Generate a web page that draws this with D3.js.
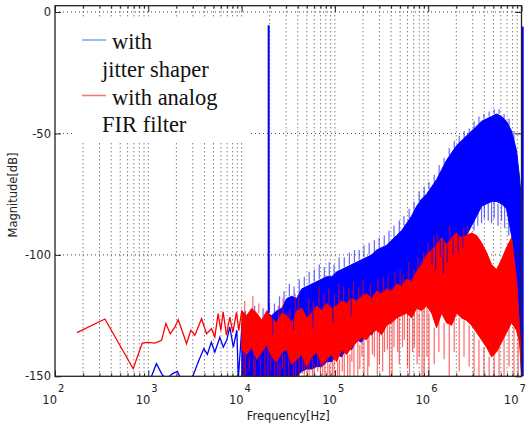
<!DOCTYPE html>
<html>
<head>
<style>
  body { margin: 0; background: white; }
  svg { display: block; }
  .lbl { font-family: "DejaVu Sans", sans-serif; font-size: 11.5px; fill: #222; }
  .legend text { font-family: "Liberation Serif", "Times New Roman", serif; font-size: 22.5px; fill: #111; }
  .axis path { display: none; }
  .axis line { stroke: #222; stroke-width: 1; }
</style>
<script src="https://cdn.jsdelivr.net/npm/d3@7/dist/d3.min.js"></script>
</head>
<body>
<svg></svg>
<script>
const width = 526, height = 427;

// axis ticks
const decades = [1e2, 1e3, 1e4, 1e5, 1e6, 1e7];
const decadeExp = ["2", "3", "4", "5", "6", "7"];
const yTicks = [0, -50, -100, -150];
const yGrid = [0, -50, -100];
const legendLabels = [["with", "jitter shaper"], ["with analog", "FIR filter"]];

// jitter shaper: low-frequency trace [Hz, dB]
const blueLine = [[1058,-151],[1221,-144.8],[1416,-149.5],[1582,-151],[1803,-149],[2049,-148],
  [2234,-151],[2930,-151],[3436,-144],[3937,-138.6],[4293,-141],[4739,-136],[5167,-140],
  [5843,-134],[6370,-138],[6947,-135],[7476,-129.7],[8150,-138],[8885,-131],[9223,-151],[10050,-130]];
// jitter shaper: dense band [Hz, upper dB, lower dB]
const blueBand = [[10050,-128,-150],[11370,-126,-150],[12860,-129,-150],[14550,-125,-150],[16460,-127,-150],
  [18610,-124,-150],[21050,-125,-150],[23820,-123,-150],[26940,-122,-150],[30480,-118,-150],
  [34480,-117,-150],[39000,-118,-150],[44110,-114,-148],[49900,-113,-147],[56450,-112,-147],
  [63850,-111,-146],[72230,-110,-146],[81710,-109,-144],[92430,-109,-144],[104500,-107,-141],
  [118300,-106,-142],[133800,-105,-138],[151300,-104,-139],[171200,-103,-135],[193600,-102,-136],
  [219000,-101,-132],[247800,-100,-133],[280300,-98,-129],[317100,-97,-127],[358700,-96,-125],
  [405700,-94,-124],[459000,-92,-122],[519200,-90,-121],[587300,-87,-121],[664400,-84,-120],
  [751500,-80,-118],[850100,-77,-112],[961700,-75,-108],[1088000,-72,-104],[1230000,-69,-100],
  [1392000,-65,-97],[1574000,-61,-96],[1781000,-58,-95],[2014000,-55,-94],[2279000,-53,-93],
  [2578000,-51,-92],[2916000,-49,-88],[3299000,-47,-84],[3731000,-45,-80],[4221000,-44,-79],
  [4775000,-43,-78],[5401000,-42,-78],[6110000,-43,-79],[6911000,-45,-81],[7818000,-49,-92],
  [8844000,-57,-110],[9520000,-68,-128],[10000000,-78,-150]];
// jitter shaper: thin spikes [Hz, from dB, to dB]
const blueStreaks = [[11000,-127,-123],[13800,-126,-121],[17000,-126,-122],[22500,-124,-120],[25500,-123,-117],
  [28500,-120,-115],[32500,-117,-112],[36500,-117,-113],[41500,-116,-110],[47000,-113,-109],[53000,-112,-107],
  [60000,-111,-106],[68000,-110,-104],[77000,-110,-105],[87000,-109,-103],[98000,-108,-104],[111000,-106,-101],
  [126000,-105,-101],[143000,-104,-99],[162000,-103,-98],[182000,-102,-98],[205000,-101,-96],[233000,-100,-95],
  [265000,-99,-94],[298000,-97,-93],[338000,-96,-92],[380000,-95,-90],[430000,-93,-88],[490000,-91,-86],
  [550000,-88,-84],[625000,-85,-81],[705000,-82,-78],[800000,-78,-74],[905000,-76,-72],[1020000,-73,-70],
  [1160000,-70,-67],[1310000,-67,-63],[1480000,-63,-60],[1680000,-59,-56],[1900000,-56,-53],[2150000,-54,-51],
  [2430000,-52,-49],[2750000,-50,-48],[3100000,-48,-45],[3500000,-46,-43],[3950000,-44,-42],[4500000,-43,-41],
  [5100000,-42,-40],[5750000,-42,-40],[6500000,-44,-42],[7350000,-47,-44],[8300000,-53,-49],
  [3100000,-84,-90],[3400000,-82,-88],[3731000,-80,-87],[4000000,-79,-85],[4400000,-78,-86],
  [4775000,-78,-87],[5100000,-78,-85],[5600000,-79,-88],[6110000,-79,-86],[6600000,-80,-89],[7300000,-84,-92]];
// jitter shaper: spikes that show over the red trace [Hz, from dB, to dB]
const blueOverStreaks = [[1100000,-98,-104],[1200000,-96,-106],[1350000,-94,-101],[1450000,-94,-108],
  [1600000,-96,-103],[1850000,-93,-100],[2100000,-91,-99],[2350000,-93,-97],
  [21500,-126,-133],[36000,-124,-131],[58000,-122,-130],[95000,-121,-128],[150000,-118,-125]];
// jitter shaper: spectral line and the last bin [Hz, from dB, to dB]
const blueLines = [[19500,-124,-5.5],[10300000,-150,-6]];

// analog FIR filter: low-frequency trace [Hz, dB]
const redLine = [[172,-132],[343,-126.4],[689,-146.9],[861,-136.3],[982,-136],[1177,-136.3],[1387,-135.2],
  [1543,-128.3],[1717,-132.5],[1927,-129.8],[2090,-126.7],[2366,-132.5],[2570,-136.6],[2858,-131.1],
  [3155,-133.1],[3722,-126.3],[4209,-132.5],[4761,-130.4],[5165,-133.8],[5603,-124.2],[5984,-131.1],
  [6339,-123.5],[6887,-133.1],[7476,-125.6],[8054,-131.9],[8817,-123.7],[9333,-131.1],[10050,-122.8]];
// analog FIR filter: dense band [Hz, upper dB, lower dB]
const redBand = [[10050,-123,-139],[11370,-125,-141],[12860,-122,-138],[14550,-124,-143],[16460,-127,-140],
  [18610,-123,-137],[21050,-126,-142],[23820,-128,-144],[26940,-124,-140],[30480,-125,-139],
  [34480,-128,-145],[39000,-123,-143],[44110,-122,-141],[49900,-126,-146],[56450,-124,-142],
  [63850,-121,-140],[72230,-123,-145],[81710,-120,-143],[92430,-122,-141],[104500,-121,-144],
  [118300,-119,-139],[133800,-120,-141],[151300,-118,-138],[171200,-119,-136],[193600,-117,-134],
  [219000,-116,-135],[247800,-118,-132],[280300,-115,-131],[317100,-116,-133],[358700,-114,-129],
  [405700,-115,-128],[459000,-112,-126],[519200,-113,-125],[587300,-110,-124],[664400,-111,-126],
  [751500,-107,-122],[850100,-104,-123],[961700,-100,-121],[1088000,-98,-124],[1230000,-96,-130],
  [1392000,-93,-124],[1574000,-96,-128],[1781000,-93,-129],[2014000,-91,-124],[2279000,-93,-126],
  [2578000,-92,-127],[2916000,-91,-129],[3299000,-92,-132],[3731000,-95,-135],[4221000,-99,-138],
  [4775000,-104,-142],[5401000,-106,-140],[6110000,-102,-136],[6911000,-97,-132],[7818000,-93,-128],
  [8844000,-110,-131],[9520000,-130,-136],[10000000,-145,-148]];
// analog FIR filter: thin spikes [Hz, from dB, to dB]
const redStreaks = [[10800,-124,-119],[13200,-122,-117],[15300,-124,-120],[19900,-123,-120],[24800,-128,-121],
  [27800,-124,-118],[33000,-128,-122],[37500,-123,-116],[41000,-122,-117],[52500,-126,-118],[58800,-124,-119],
  [67500,-121,-113],[76000,-123,-116],[86000,-120,-114],[99000,-122,-116],[110000,-121,-112],[124000,-119,-113],
  [141000,-120,-114],[158000,-118,-111],[180000,-119,-113],[200000,-117,-110],[240000,-118,-112],[290000,-115,-110],
  [330000,-116,-109],[372000,-114,-109],[440000,-112,-107],[500000,-113,-106],[540000,-113,-108],[620000,-110,-103],
  [700000,-111,-106],[780000,-107,-101],[890000,-104,-99],[1000000,-100,-95],[1150000,-97,-92],[1250000,-96,-91],
  [1700000,-93,-88],[2400000,-93,-89],[2650000,-92,-88],
  [10570,-140,-150],[11000,-141,-150],[12100,-142,-148],[13520,-138,-150],[14000,-143,-150],[15900,-143,-150],
  [17800,-139,-150],[19200,-137,-150],[20500,-142,-148],[22700,-140,-150],[24400,-144,-150],[25800,-144,-150],
  [27500,-140,-147],[29000,-141,-150],[32000,-139,-150],[36000,-145,-150],[38000,-143,-150],[41500,-142,-150],
  [44800,-141,-149],[47000,-144,-150],[50500,-146,-150],[53000,-141,-150],[57500,-142,-150],[60000,-145,-150],
  [65500,-140,-148],[70000,-144,-150],[74000,-145,-150],[78000,-142,-150],[84000,-143,-150],[88000,-145,-150],
  [94000,-141,-150],[98000,-140,-150],[107000,-144,-150],[112000,-143,-150],[120000,-139,-148],[126000,-138,-150],
  [137000,-141,-150],[145000,-141,-150],[152000,-138,-144],[160000,-135,-150],[176000,-136,-150],[185000,-137,-147],
  [195000,-134,-142],[205000,-132,-150],[225000,-135,-150],[232000,-134,-146],[252000,-132,-141],[265000,-130,-142],
  [285000,-131,-150],[300000,-132,-145],[325000,-133,-148],[340000,-128,-140],[365000,-129,-139],[385000,-129,-150],
  [410000,-128,-150],[430000,-124,-138],[470000,-126,-140],[490000,-126,-145],[530000,-125,-138],[555000,-123,-135],
  [600000,-124,-146],[630000,-126,-150],[680000,-126,-140],[710000,-122,-138],[760000,-122,-145],[800000,-124,-142],
  [860000,-123,-150],[905000,-121,-150],[970000,-121,-142],[1020000,-124,-150],[1160000,-130,-145],[1300000,-124,-140],
  [1480000,-128,-143],[1680000,-129,-150],[1900000,-124,-140],[2150000,-126,-148],[2420000,-127,-142],
  [2750000,-129,-146],[3100000,-132,-150],[3500000,-135,-150],[3950000,-138,-150],[4500000,-142,-150],
  [5100000,-140,-150],[5750000,-136,-150],[6500000,-132,-150],[7350000,-128,-146],[8300000,-130,-150],
  [9200000,-134,-150]];

const svg = d3.select("svg").attr("width", width).attr("height", height);

const x = d3.scaleLog().domain([1e2, 1e7]).range([55, 521.5]);
const y = d3.scaleLinear().domain([-150, 2.6]).range([376.3, 5.7]);
const x0 = x.range()[0], x1 = x.range()[1], yb = y(-150), yt = y(2.6);

const allTicks = x.ticks();
const minor = allTicks.filter(d => decades.indexOf(d) < 0);

// grid
const grid = svg.append("g").attr("stroke", "#444").attr("stroke-width", 1).attr("stroke-dasharray", "1,3");
grid.selectAll(".gv").data(allTicks.filter(d => d > 1e2 && d < 1e7)).enter().append("line")
    .attr("x1", d => x(d)).attr("x2", d => x(d)).attr("y1", yb).attr("y2", yt);
grid.selectAll(".gh").data(yGrid).enter().append("line")
    .attr("x1", x0).attr("x2", x1).attr("y1", d => y(d)).attr("y2", d => y(d));

// legend background hides the grid
svg.append("rect").attr("x", 73).attr("y", 18).attr("width", 176).attr("height", 124).attr("fill", "white");

svg.append("clipPath").attr("id", "plot").append("rect")
    .attr("x", x0).attr("y", yt).attr("width", x1 - x0).attr("height", yb - yt);
const plot = svg.append("g").attr("clip-path", "url(#plot)");

const area = d3.area().x(d => x(d[0])).y0(d => y(d[2])).y1(d => y(d[1]));
const line = d3.line().x(d => x(d[0])).y(d => y(d[1]));

function streaks(g, data, color, w, op) {
  g.selectAll(null).data(data).enter().append("line")
      .attr("x1", d => x(d[0])).attr("x2", d => x(d[0]))
      .attr("y1", d => y(d[1])).attr("y2", d => y(d[2]))
      .attr("stroke", color).attr("stroke-width", w).attr("stroke-opacity", op);
}
function series(g, lineData, band, color) {
  g.append("path").datum(lineData).attr("d", line)
      .attr("fill", "none").attr("stroke", color).attr("stroke-width", 1.3);
  g.append("path").datum(band).attr("d", area)
      .attr("fill", color).attr("stroke", color).attr("stroke-width", 1);
}
const gb = plot.append("g");
series(gb, blueLine, blueBand, "#0000ff");
streaks(gb, blueStreaks, "#0000ff", 1.2, 0.6);
const gr = plot.append("g");
series(gr, redLine, redBand, "#ff0000");
streaks(gr, redStreaks, "#ff0000", 1.2, 0.6);
streaks(plot.append("g"), blueOverStreaks, "#0000ff", 1.2, 0.7);

// spectral line and the edge trace
streaks(svg.append("g"), blueLines, "#0000ff", 2, 1);

// frame
svg.append("rect").attr("x", x0).attr("y", yt).attr("width", x1 - x0).attr("height", yb - yt)
    .attr("fill", "none").attr("stroke", "#222").attr("stroke-width", 1.3);

// ticks (pointing inward)
svg.append("g").attr("class", "axis").attr("transform", `translate(0,${yb})`)
    .call(d3.axisBottom(x).tickValues(decades).tickSize(-6).tickFormat(""));
svg.append("g").attr("class", "axis").attr("transform", `translate(0,${yb})`)
    .call(d3.axisBottom(x).tickValues(minor).tickSize(-3).tickFormat(""));
svg.append("g").attr("class", "axis").attr("transform", `translate(0,${yt})`)
    .call(d3.axisTop(x).tickValues(decades).tickSize(-6).tickFormat(""));
svg.append("g").attr("class", "axis").attr("transform", `translate(0,${yt})`)
    .call(d3.axisTop(x).tickValues(minor).tickSize(-3).tickFormat(""));
svg.append("g").attr("class", "axis").attr("transform", `translate(${x0},0)`)
    .call(d3.axisLeft(y).tickValues(yTicks).tickSize(-6).tickPadding(4).tickFormat(d => String(d)))
    .selectAll("text").attr("class", "lbl").attr("font-family", null).attr("font-size", null).attr("fill", null);
svg.append("g").attr("class", "axis").attr("transform", `translate(${x1},0)`)
    .call(d3.axisRight(y).tickValues(yTicks).tickSize(-6).tickFormat(""));

// x tick labels 10^n (the last one nudged so it stays inside the page)
const nudge = (d, i) => (i === decades.length - 1 ? -5 : 0);
const xl = svg.append("g").selectAll("g").data(decades).enter().append("g");
xl.append("text").attr("class", "lbl").attr("x", (d, i) => x(d) + 2 + nudge(d, i)).attr("y", 404)
    .attr("text-anchor", "end").text("10");
xl.append("text").attr("class", "lbl").attr("x", (d, i) => x(d) + 3 + nudge(d, i)).attr("y", 392)
    .style("font-size", "10px").text((d, i) => decadeExp[i]);

svg.append("text").attr("class", "lbl").attr("x", (x0 + x1) / 2).attr("y", 420)
    .attr("text-anchor", "middle").text("Frequency[Hz]");
svg.append("text").attr("class", "lbl").attr("transform", `translate(17,${(yt + yb) / 2 + 4}) rotate(-90)`)
    .attr("text-anchor", "middle").text("Magnitude[dB]");

// legend
const legend = svg.append("g").attr("class", "legend");
const legendColors = ["#6fa8e8", "#ff7070"];
legendLabels.forEach((lab, i) => {
  const base = 49 + i * 55.5;
  legend.append("line").attr("x1", 82).attr("x2", 106).attr("y1", base - 9).attr("y2", base - 9)
      .attr("stroke", legendColors[i]).attr("stroke-width", 1.5);
  legend.append("text").attr("x", 112).attr("y", base).text(lab[0]);
  legend.append("text").attr("x", 102).attr("y", base + 27.6).text(lab[1]);
});
</script>
</body>
</html>
